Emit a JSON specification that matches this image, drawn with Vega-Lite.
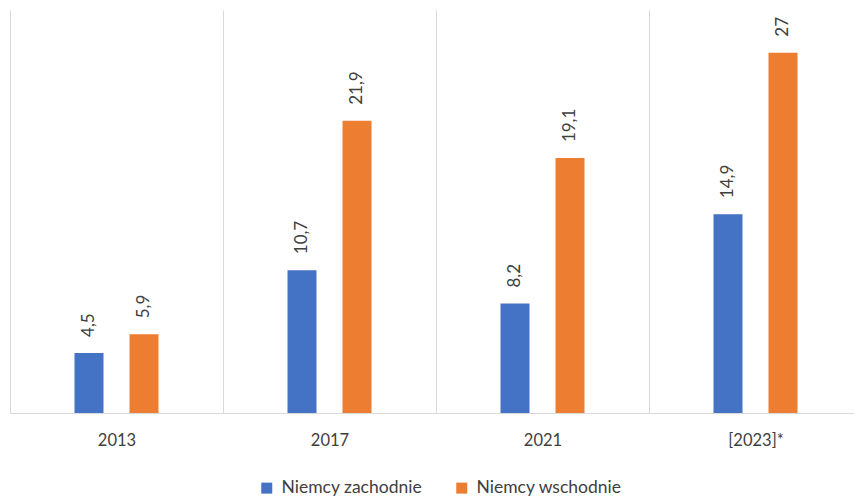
{
  "$schema": "https://vega.github.io/schema/vega-lite/v6.json",
  "width": 852,
  "height": 403,
  "autosize": "none",
  "padding": {"left": 10, "top": 10, "right": 0, "bottom": 83},
  "background": "white",
  "config": {
    "view": {"stroke": null},
    "font": "Lato",
    "locale": {"number": {"decimal": ",", "thousands": " ", "grouping": [3], "currency": ["", " zł"]}}
  },
  "data": {
    "values": [
      {"rok": "2013", "region": "Niemcy zachodnie", "wartosc": 4.5},
      {"rok": "2013", "region": "Niemcy wschodnie", "wartosc": 5.9},
      {"rok": "2017", "region": "Niemcy zachodnie", "wartosc": 10.7},
      {"rok": "2017", "region": "Niemcy wschodnie", "wartosc": 21.9},
      {"rok": "2021", "region": "Niemcy zachodnie", "wartosc": 8.2},
      {"rok": "2021", "region": "Niemcy wschodnie", "wartosc": 19.1},
      {"rok": "[2023]*", "region": "Niemcy zachodnie", "wartosc": 14.9},
      {"rok": "[2023]*", "region": "Niemcy wschodnie", "wartosc": 27}
    ]
  },
  "encoding": {
    "x": {
      "field": "rok", "type": "nominal", "sort": null, "title": null,
      "scale": {"paddingInner": 0, "paddingOuter": 0},
      "axis": {
        "labelAngle": 0, "labelFontSize": 16.5, "labelColor": "#404040", "labelFont": "Lato",
        "labelPadding": 19, "ticks": false, "domainColor": "#d9d9d9", "domainWidth": 1,
        "grid": true, "gridColor": "#d9d9d9", "gridWidth": 1, "tickBand": "extent"
      }
    },
    "xOffset": {
      "field": "region", "type": "nominal",
      "sort": ["Niemcy zachodnie", "Niemcy wschodnie"],
      "scale": {"paddingInner": 0.127, "paddingOuter": 1}
    },
    "y": {
      "field": "wartosc", "type": "quantitative",
      "scale": {"domain": [0, 30.2], "nice": false},
      "axis": null
    }
  },
  "layer": [
    {
      "mark": {"type": "bar", "width": 29},
      "encoding": {
        "color": {
          "field": "region", "type": "nominal",
          "sort": ["Niemcy zachodnie", "Niemcy wschodnie"],
          "scale": {"domain": ["Niemcy zachodnie", "Niemcy wschodnie"], "range": ["#4472C4", "#ED7D31"]},
          "legend": {
            "title": null, "orient": "none", "direction": "horizontal",
            "legendX": 248, "legendY": 469,
            "symbolType": "square", "symbolSize": 121, "symbolStrokeWidth": 0,
            "labelFontSize": 17.5, "labelColor": "#404040", "labelFont": "Lato",
            "columnPadding": 30, "labelOffset": 6
          }
        }
      }
    },
    {
      "mark": {"type": "text", "angle": -90, "align": "left", "baseline": "middle", "dx": 16, "fontSize": 17, "color": "#404040", "font": "Lato"},
      "encoding": {
        "text": {"field": "wartosc", "type": "quantitative", "format": ".1~f"}
      }
    }
  ]
}
